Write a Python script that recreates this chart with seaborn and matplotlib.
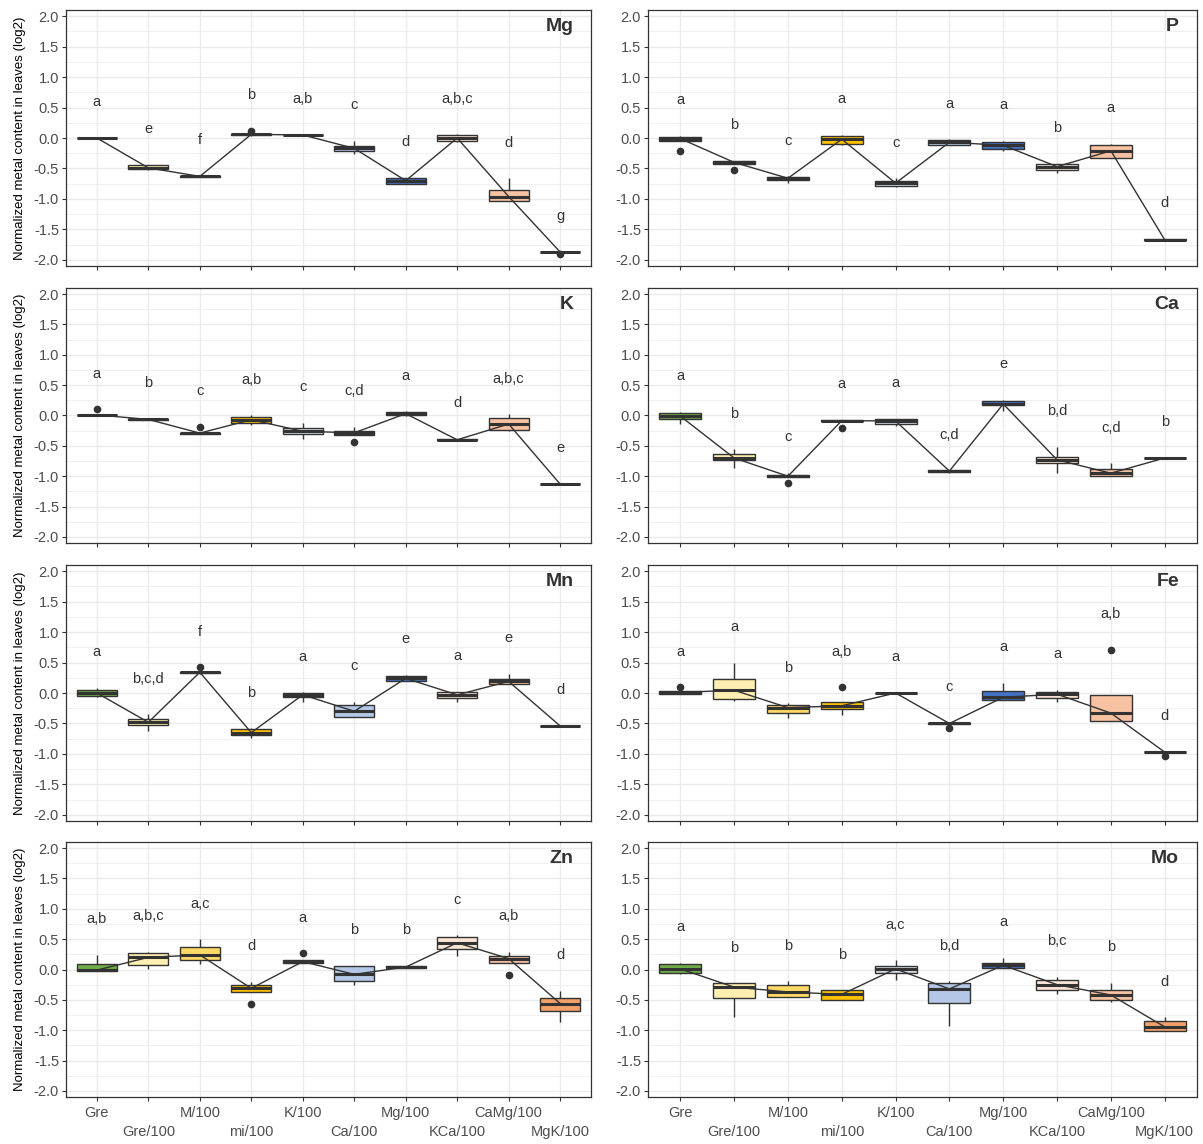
import numpy as np
import pandas as pd
import matplotlib
matplotlib.use('Agg')
import matplotlib.pyplot as plt
import seaborn as sns

# Tratamientos y colores de cada caja
treatments = ['Gre', 'Gre/100', 'M/100', 'mi/100', 'K/100', 'Ca/100',
              'Mg/100', 'KCa/100', 'CaMg/100', 'MgK/100']
colors = ['#70AD47', '#FFEFB0', '#FFD966', '#FFC000', '#D6DCE5', '#B4C7E7',
          '#4472C4', '#FBE5D6', '#F6C2A2', '#F2A06A']

# Valores (log2) por elemento, 5 replicas por tratamiento
mg_vals = [[-0.005, -0.005, 0.0, 0.005, 0.005], [-0.52, -0.51, -0.49, -0.45, -0.44],
           [-0.64, -0.64, -0.63, -0.63, -0.62], [0.04, 0.045, 0.06, 0.07, 0.115],
           [0.04, 0.045, 0.05, 0.05, 0.055], [-0.26, -0.21, -0.17, -0.13, -0.05],
           [-0.76, -0.75, -0.70, -0.66, -0.65], [-0.06, -0.05, 0.0, 0.05, 0.06],
           [-1.04, -1.03, -0.96, -0.85, -0.66], [-1.91, -1.875, -1.87, -1.865, -1.86]]
p_vals = [[-0.21, -0.05, -0.01, 0.02, 0.03], [-0.53, -0.43, -0.40, -0.38, -0.37],
          [-0.74, -0.69, -0.66, -0.645, -0.63], [-0.11, -0.10, -0.02, 0.04, 0.05],
          [-0.81, -0.78, -0.74, -0.70, -0.66], [-0.12, -0.11, -0.07, -0.03, -0.02],
          [-0.21, -0.18, -0.12, -0.07, -0.05], [-0.57, -0.52, -0.47, -0.43, -0.42],
          [-0.33, -0.32, -0.21, -0.11, -0.10], [-1.68, -1.675, -1.67, -1.665, -1.66]]
k_vals = [[0.0, 0.005, 0.01, 0.015, 0.10], [-0.075, -0.07, -0.065, -0.06, -0.055],
          [-0.31, -0.305, -0.29, -0.285, -0.19], [-0.16, -0.12, -0.07, -0.02, 0.005],
          [-0.38, -0.30, -0.26, -0.21, -0.12], [-0.44, -0.32, -0.285, -0.25, -0.19],
          [-0.01, 0.0, 0.03, 0.06, 0.07], [-0.42, -0.41, -0.40, -0.39, -0.38],
          [-0.25, -0.24, -0.14, -0.04, 0.02], [-1.145, -1.135, -1.13, -1.125, -1.12]]
ca_vals = [[-0.14, -0.065, -0.01, 0.045, 0.06], [-0.87, -0.74, -0.70, -0.64, -0.56],
           [-1.11, -1.01, -1.0, -0.98, -0.94], [-0.20, -0.09, -0.085, -0.075, -0.07],
           [-0.17, -0.14, -0.09, -0.06, -0.05], [-0.95, -0.93, -0.915, -0.905, -0.90],
           [0.08, 0.17, 0.19, 0.235, 0.26], [-0.94, -0.79, -0.73, -0.68, -0.52],
           [-1.0, -0.995, -0.95, -0.88, -0.79], [-0.71, -0.705, -0.70, -0.695, -0.69]]
mn_vals = [[-0.06, -0.055, 0.0, 0.045, 0.09], [-0.62, -0.52, -0.48, -0.43, -0.35],
           [0.31, 0.32, 0.34, 0.35, 0.42], [-0.74, -0.69, -0.65, -0.59, -0.58],
           [-0.15, -0.07, -0.03, 0.005, 0.01], [-0.40, -0.39, -0.30, -0.20, -0.15],
           [0.19, 0.20, 0.24, 0.28, 0.30], [-0.14, -0.09, -0.03, 0.01, 0.02],
           [0.14, 0.15, 0.19, 0.235, 0.31], [-0.55, -0.545, -0.54, -0.535, -0.53]]
fe_vals = [[-0.02, -0.01, 0.01, 0.025, 0.095], [-0.13, -0.10, 0.045, 0.23, 0.50],
           [-0.41, -0.33, -0.24, -0.20, -0.17], [-0.36, -0.26, -0.21, -0.14, 0.095],
           [-0.01, -0.005, 0.0, 0.005, 0.01], [-0.57, -0.505, -0.50, -0.495, -0.49],
           [-0.12, -0.115, -0.07, 0.04, 0.165], [-0.14, -0.09, -0.02, 0.02, 0.05],
           [-0.46, -0.455, -0.33, -0.03, 0.71], [-1.04, -0.975, -0.97, -0.965, -0.96]]
zn_vals = [[-0.03, -0.02, -0.01, 0.095, 0.24], [0.01, 0.08, 0.20, 0.27, 0.29],
           [0.095, 0.15, 0.24, 0.37, 0.50], [-0.57, -0.365, -0.31, -0.255, -0.20],
           [0.10, 0.115, 0.13, 0.16, 0.27], [-0.25, -0.195, -0.08, 0.05, 0.065],
           [0.02, 0.025, 0.04, 0.06, 0.065], [0.22, 0.34, 0.44, 0.53, 0.565],
           [-0.095, 0.11, 0.18, 0.22, 0.29], [-0.86, -0.69, -0.56, -0.47, -0.35]]
mo_vals = [[-0.07, -0.065, 0.01, 0.09, 0.11], [-0.79, -0.47, -0.29, -0.23, -0.225],
           [-0.45, -0.445, -0.37, -0.255, -0.195], [-0.51, -0.495, -0.41, -0.345, -0.34],
           [-0.18, -0.06, 0.01, 0.055, 0.15], [-0.93, -0.555, -0.32, -0.23, -0.195],
           [0.025, 0.03, 0.07, 0.11, 0.19], [-0.40, -0.345, -0.25, -0.165, -0.12],
           [-0.53, -0.495, -0.42, -0.345, -0.22], [-1.02, -1.01, -0.945, -0.845, -0.79]]

# Letras de significancia
mg_letters = ['a', 'e', 'f', 'b', 'a,b', 'c', 'd', 'a,b,c', 'd', 'g']
p_letters = ['a', 'b', 'c', 'a', 'c', 'a', 'a', 'b', 'a', 'd']
k_letters = ['a', 'b', 'c', 'a,b', 'c', 'c,d', 'a', 'd', 'a,b,c', 'e']
ca_letters = ['a', 'b', 'c', 'a', 'a', 'c,d', 'e', 'b,d', 'c,d', 'b']
mn_letters = ['a', 'b,c,d', 'f', 'b', 'a', 'c', 'e', 'a', 'e', 'd']
fe_letters = ['a', 'a', 'b', 'a,b', 'a', 'c', 'a', 'a', 'a,b', 'd']
zn_letters = ['a,b', 'a,b,c', 'a,c', 'd', 'a', 'b', 'b', 'c', 'a,b', 'd']
mo_letters = ['a', 'b', 'b', 'b', 'a,c', 'b,d', 'a', 'b,c', 'b', 'd']

elements = ['Mg', 'P', 'K', 'Ca', 'Mn', 'Fe', 'Zn', 'Mo']
all_vals = [mg_vals, p_vals, k_vals, ca_vals, mn_vals, fe_vals, zn_vals, mo_vals]
all_letters = [mg_letters, p_letters, k_letters, ca_letters,
               mn_letters, fe_letters, zn_letters, mo_letters]

plt.rcParams['font.family'] = ['Liberation Sans', 'DejaVu Sans']
plt.rcParams['axes.unicode_minus'] = False

W, H = 1203, 1144
fig = plt.figure(figsize=(W / 100, H / 100), dpi=100)
cols = [(66, 591), (648, 1197)]  # posiciones en pixeles de cada panel
rows = [(10, 266), (288, 543), (565, 821), (842, 1097)]

for k, elem in enumerate(elements):
    r, c = divmod(k, 2)
    x0, x1 = cols[c]
    y0, y1 = rows[r]
    ax = fig.add_axes([x0 / W, 1 - y1 / H, (x1 - x0) / W, (y1 - y0) / H])
    df = pd.DataFrame([(t, v) for t, vs in zip(treatments, all_vals[k]) for v in vs],
                      columns=['treat', 'val'])

    sns.boxplot(data=df, x='treat', y='val', hue='treat', order=treatments,
                hue_order=treatments, palette=colors, saturation=1, width=0.78,
                linewidth=1, linecolor='#333333', showcaps=False, fliersize=4.5,
                flierprops=dict(marker='o', markerfacecolor='#333333',
                                markeredgecolor='#333333'),
                medianprops=dict(color='#333333', linewidth=2.2),
                legend=False, ax=ax)
    sns.pointplot(data=df, x='treat', y='val', order=treatments, estimator='median',
                  errorbar=None, color='#333333', markers='', linewidth=1, ax=ax)

    # letras encima de cada caja
    for i, (vs, let) in enumerate(zip(all_vals[k], all_letters[k])):
        ax.text(i, max(vs) + 0.52, let, ha='center', va='baseline',
                fontsize=10.5, color='#333333')

    ax.text(0.967, 0.935, elem, transform=ax.transAxes, ha='right', va='center',
            fontsize=14, fontweight='bold', color='#333333',
            family=['Liberation Sans Narrow', 'Liberation Sans', 'DejaVu Sans'])

    ax.set_xlim(-0.6, 9.6)
    ax.set_ylim(-2.1, 2.1)
    yt = np.arange(-2, 2.01, 0.5)
    ax.set_yticks(yt)
    ax.set_yticklabels([f'{v:.1f}' for v in yt])
    ax.set_yticks(np.arange(-1.75, 2.0, 0.5), minor=True)

    # etiquetas del eje x escalonadas: pares en ticks mayores, impares en menores
    even = list(range(0, len(treatments), 2))
    odd = list(range(1, len(treatments), 2))
    ax.set_xticks(even)
    ax.set_xticks(odd, minor=True)
    if r == 3:
        ax.set_xticklabels([treatments[i] for i in even])
        ax.set_xticklabels([treatments[i] for i in odd], minor=True)
    else:
        ax.set_xticklabels([])
        ax.set_xticklabels([], minor=True)

    ax.set_axisbelow(True)
    ax.grid(True, which='major', color='#EBEBEB', linewidth=1.0)
    ax.grid(True, which='minor', axis='x', color='#EBEBEB', linewidth=1.0)
    ax.grid(True, which='minor', axis='y', color='#F0F0F0', linewidth=0.7)
    ax.tick_params(which='both', direction='out', length=3, width=0.8,
                   color='#333333', labelcolor='#4D4D4D', labelsize=10.5, pad=2)
    ax.tick_params(axis='y', which='minor', length=0)
    ax.tick_params(axis='x', which='major', pad=3.5)
    ax.tick_params(axis='x', which='minor', pad=17.2)
    for s in ax.spines.values():
        s.set_color('#333333')
        s.set_linewidth(0.9)

    ax.set_xlabel('')
    if c == 0:
        ax.set_ylabel('Normalized metal content in leaves (log2)', fontsize=9.5, color='black')
        ax.yaxis.set_label_coords(-0.076, 0.5)
    else:
        ax.set_ylabel('')

fig.savefig('out.png', dpi=100)
